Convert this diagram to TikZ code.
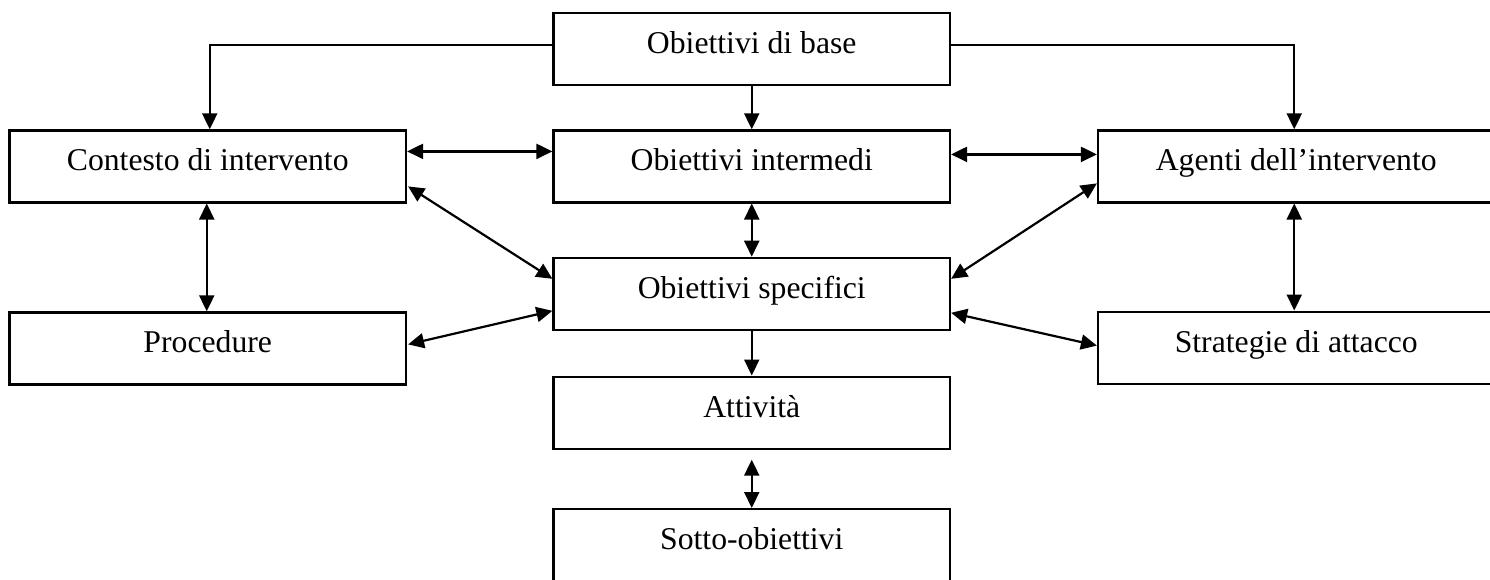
\documentclass[tikz,border=0pt]{standalone}
\usepackage{fontspec}
\setmainfont{Liberation Serif}
\usetikzlibrary{arrows.meta,calc}

\begin{document}
\begin{tikzpicture}[x=0.5pt,y=-0.5pt,
  every node/.style={font=\fontsize{15.85pt}{19pt}\selectfont},
  goalbox/.style={draw=black, line width=1.1pt, rectangle, fill=white,
    inner xsep=0pt, inner ysep=0pt, minimum width=198.25pt,
    text height=20.25pt, text depth=15.75pt, anchor=north},
  link/.style={line width=1.1pt, -{Triangle[length=8pt,width=7.5pt]}},
  biglink/.style={line width=1.1pt, {Triangle[length=8pt,width=7.5pt]}-{Triangle[length=8pt,width=7.5pt]}}
]
  % canvas
  \fill[white] (0,0) rectangle (1490,579);
  \useasboundingbox (0,0) rectangle (1490,579);
  \clip (0,0) rectangle (1490,579);

  % boxes (anchored at the middle of their top edge)
  \node[goalbox] (base)      at (751.75,11.5)  {Obiettivi di base};
  \node[goalbox] (contesto)  at (207.75,129.3) {Contesto di intervento};
  \node[goalbox] (intermedi) at (751.75,129.3) {Obiettivi intermedi};
  \node[goalbox] (agenti)    at (1296.25,129.3){Agenti dell’intervento};
  \node[goalbox] (specifici) at (751.75,256.7) {Obiettivi specifici};
  \node[goalbox] (procedure) at (207.75,311.3) {Procedure};
  \node[goalbox] (strategie) at (1296.25,310.5){Strategie di attacco};
  \node[goalbox] (attivita)  at (751.75,375.5) {Attività};
  \node[goalbox] (sotto)     at (751.75,508)   {Sotto-obiettivi};

  % from the base objectives
  \draw[link] ($(base.west)+(0,-4)$) -| ($(contesto.north)+(2,0)$);
  \draw[link] ($(base.east)+(0,-4)$) -| ($(agenti.north)+(-2,0)$);
  \draw[link] (base.south) -- (intermedi.north);

  % second row
  \draw[biglink] ($(contesto.east)+(0,-15)$) -- ($(intermedi.west)+(0,-15)$);
  \draw[biglink] ($(intermedi.east)+(0,-12)$) -- ($(agenti.west)+(0,-12)$);
  \draw[biglink] (intermedi.south) -- (specifici.north);
  \draw[biglink] ($(contesto.south)+(-1,0)$) -- ($(procedure.north)+(-1,0)$);
  \draw[biglink] ($(agenti.south)+(-2,0)$) -- ($(strategie.north)+(-2,0)$);

  % diagonals towards the specific objectives
  \draw[biglink] ($(contesto.east)+(1,20)$) -- ($(specifici.west)+(0,-15)$);
  \draw[biglink] ($(procedure.east)+(1,-4)$) -- ($(specifici.west)+(0,17)$);
  \draw[biglink] ($(agenti.west)+(0,17)$) -- ($(specifici.east)+(0,-15)$);
  \draw[biglink] ($(specifici.east)+(0,19)$) -- ($(strategie.west)+(0,-2)$);

  % lower column
  \draw[link] (specifici.south) -- (attivita.north);
  \draw[biglink, shorten <=5] (attivita.south) -- (sotto.north);
\end{tikzpicture}
\end{document}
